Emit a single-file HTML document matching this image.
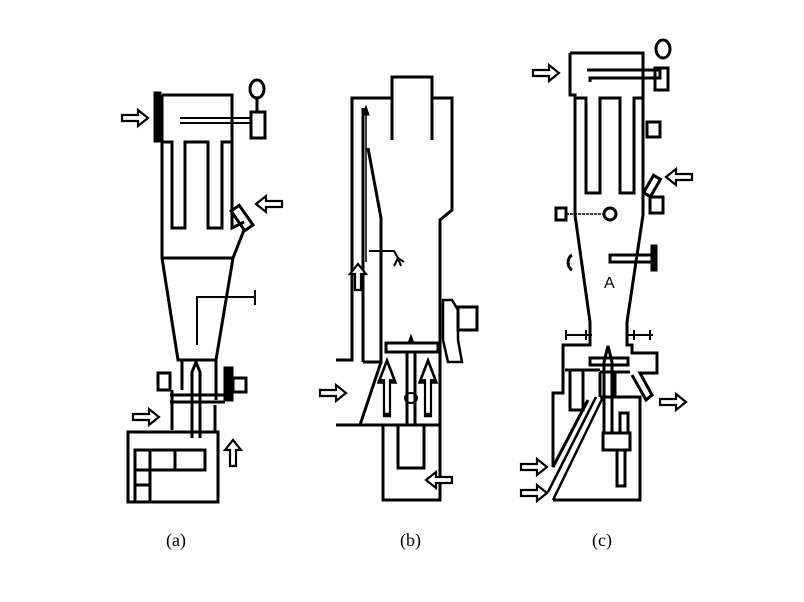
<!DOCTYPE html>
<html><head><meta charset="utf-8"><style>html,body{margin:0;padding:0;background:#fff}svg{display:block}</style></head>
<body>
<svg width="804" height="602" viewBox="0 0 804 602" xmlns="http://www.w3.org/2000/svg">
<defs>
<polygon id="ar" points="0,-3 16,-3 16,-8 26,0 16,8 16,3 0,3" fill="#fff" stroke="#000" stroke-width="2.2"/>
</defs>
<rect width="804" height="602" fill="#fff"/>
<g fill="none" stroke="#000" stroke-width="3" stroke-linejoin="miter">
<!-- ===== (a) ===== -->
<path d="M162,95 H232 V228 L244,222 M162,95 V258 L178,360 H216 L233,258 L244,230"/>
<path d="M162,258 H232"/>
<rect x="155" y="93" width="5" height="48" fill="#000"/>
<path d="M162,142 H172 V228 H185 V142 H208 V228 H222 V142 H232"/>
<path d="M180,118 H252 M180,123 H252" stroke-width="2"/>
<rect x="251" y="112" width="14" height="26"/>
<line x1="257" y1="98" x2="257" y2="112"/>
<ellipse cx="257" cy="89" rx="7" ry="9"/>
<rect x="237" y="206" width="10" height="24" transform="rotate(-35 242 218)"/>
<path d="M197,345 V297 H255 M255,290 V305" stroke-width="2"/>
<path d="M192,438 V372 L196,362 L200,372 V438"/>
<rect x="158" y="373" width="12" height="17"/>
<rect x="225" y="368" width="7" height="32" fill="#000"/>
<rect x="233" y="378" width="13" height="14"/>
<path d="M170,395 H225 M170,402 H225 M172,390 V430 M182,360 V390 M216,360 V400 M215,405 V432"/>
<rect x="128" y="432" width="90" height="70"/>
<path d="M135,502 V450 H205 V470 H135 M150,450 V502 M135,485 H150 M175,450 V470"/>
<!-- ===== (b) ===== -->
<path d="M392,140 V77 H432 V140"/>
<path d="M336,360 H352 V98 H392 M432,98 H452 V210 L440,220 V500 H383 V425"/>
<path d="M363,362 V108 M368,148 L381,218 V362 H363"/>
<line x1="366" y1="112" x2="366" y2="262" stroke-width="1.5"/>
<polygon points="366,106 363,115 369,115" fill="#000" stroke-width="1"/>
<path d="M369,251 H394 L398,258 M398,258 l-4,8 M398,258 l3,8 M398,258 l6,4" stroke-width="2"/>
<rect x="386" y="343" width="52" height="9"/>
<path d="M407,352 V425 M415,352 V425"/>
<polygon points="411,335 408,343 414,343" fill="#000" stroke-width="1"/>
<ellipse cx="411" cy="398" rx="6" ry="5" stroke-width="2"/>
<path d="M381,362 L360,425 M336,425 H440"/>
<rect x="398" y="425" width="26" height="43"/>
<path d="M443,300 H452 L458,310 V340 L462,362 H448 L443,340 Z" stroke-width="2.5"/>
<rect x="458" y="307" width="19" height="23"/>
<!-- ===== (c) ===== -->
<path d="M570,53 V95 H575 V215 L590,322 M570,53 H643 V215 L627,322"/>
<path d="M575,98 H586 V193 H600 V98 H620 V193 H634 V98 H643"/>
<path d="M587,70 H660 V78 H590 V82"/>
<rect x="655" y="68" width="13" height="22"/>
<ellipse cx="663" cy="49" rx="7" ry="9"/>
<rect x="647" y="122" width="13" height="15"/>
<rect x="648" y="176" width="8" height="20" transform="rotate(30 652 186)"/>
<rect x="650" y="197" width="13" height="16"/>
<rect x="556" y="208" width="10" height="12"/>
<path d="M566,214 H604" stroke-width="1.5" stroke-dasharray="3,1"/>
<circle cx="610" cy="214" r="6"/>
<path d="M572,255 A6,8 0 0 0 572,270" />
<rect x="610" y="255" width="45" height="7"/>
<rect x="652" y="246" width="4" height="24" fill="#000"/>
<!-- bottom of (c) -->
<path d="M565,335 H592 M566,330 V340 M586,330 V340 M628,335 H653 M650,330 V340 M634,330 V340" stroke-width="2"/>
<path d="M590,322 V345 H563 V393 H553 V467 L588,400 M627,322 V345 H632 V353 H657 V373 H640 L652,395 L646,400 L632,375"/>
<rect x="570" y="370" width="13" height="40"/>
<path d="M565,370 H600 M600,372 H630 M600,372 V397 M615,372 V397"/>
<path d="M548,492 L596,397 M553,500 L603,397" stroke-width="2.5"/>
<path d="M553,500 H640 V397 H600"/>
<rect x="590" y="358" width="38" height="7"/>
<path d="M604,433 V362 L608,346 L612,362 V433"/>
<rect x="620" y="413" width="8" height="20"/>
<rect x="603" y="433" width="27" height="17"/>
<rect x="617" y="450" width="8" height="36"/>
</g>
<!-- arrows -->
<use href="#ar" transform="translate(122,118)"/>
<use href="#ar" transform="translate(282,204) rotate(180)"/>
<use href="#ar" transform="translate(133,417)"/>
<use href="#ar" transform="translate(233,466) rotate(-90)"/>
<use href="#ar" transform="translate(358,290) rotate(-90)"/>
<use href="#ar" transform="translate(320,393)"/>
<use href="#ar" transform="translate(387,415) rotate(-90) scale(2.1,1)"/>
<use href="#ar" transform="translate(428,415) rotate(-90) scale(2.1,1)"/>
<use href="#ar" transform="translate(452,480) rotate(180)"/>
<use href="#ar" transform="translate(533,73)"/>
<use href="#ar" transform="translate(692,177) rotate(180)"/>
<use href="#ar" transform="translate(660,402)"/>
<use href="#ar" transform="translate(521,467)"/>
<use href="#ar" transform="translate(521,493)"/>
<g font-family="Liberation Serif, serif" font-size="18" fill="#000">
<text x="604" y="288" font-size="16" font-family="Liberation Sans, sans-serif">A</text>
<text x="166" y="546">(a)</text>
<text x="400" y="546">(b)</text>
<text x="592" y="546">(c)</text>
</g>
</svg>
</body></html>
